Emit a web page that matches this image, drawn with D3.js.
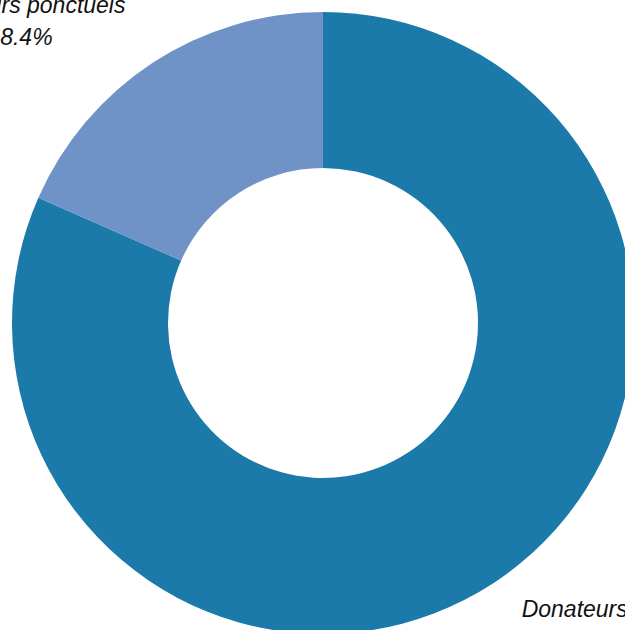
<!DOCTYPE html>
<html><head><meta charset="utf-8">
<script src="https://cdn.jsdelivr.net/npm/d3@7"></script>
<style>html,body{margin:0;padding:0;background:#fff;overflow:hidden}</style>
</head><body>
<svg id="chart" width="625" height="630"></svg>
<script>
const categories = ["Donateurs réguliers", "Donateurs ponctuels"];
const values = [81.6, 18.4];
const valueLabels = ["81.6%", "18.4%"];
const colors = ["#1b7aaa", "#7093c7"];

const svg = d3.select("#chart");
const cx = 323, cy = 323, outerR = 311, innerR = 155, labelR = 361, labelDx = 301, labelShift = -2;
const g = svg.append("g").attr("transform", `translate(${cx},${cy})`);

const pie = d3.pie().sort(null).value(d => d.v);
const data = pie(categories.map((c, i) => ({c, v: values[i], l: valueLabels[i], col: colors[i]})));
const arc = d3.arc().innerRadius(innerR).outerRadius(outerR);

g.selectAll("path.slice").data(data).join("path")
  .attr("class", "slice")
  .attr("d", arc)
  .attr("fill", d => d.data.col);

const labelArc = d3.arc().innerRadius(labelR).outerRadius(labelR);
const lbl = g.selectAll("text.lbl").data(data).join("text")
  .attr("class", "lbl")
  .attr("font-family", "Liberation Sans, Arial, sans-serif")
  .attr("font-style", "italic")
  .attr("font-size", 23)
  .attr("fill", "#111")
  .attr("text-anchor", "middle")
  .attr("transform", d => {
    const p = labelArc.centroid(d);
    const side = ((d.startAngle + d.endAngle) / 2 < Math.PI) ? 1 : -1;
    return `translate(${side * labelDx + labelShift},${p[1] - 8})`;
  });
lbl.append("tspan").attr("x", 0).attr("dy", 0).text(d => d.data.c);
lbl.append("tspan").attr("x", 0).attr("dy", 32).text(d => d.data.l);
</script>
</body></html>
